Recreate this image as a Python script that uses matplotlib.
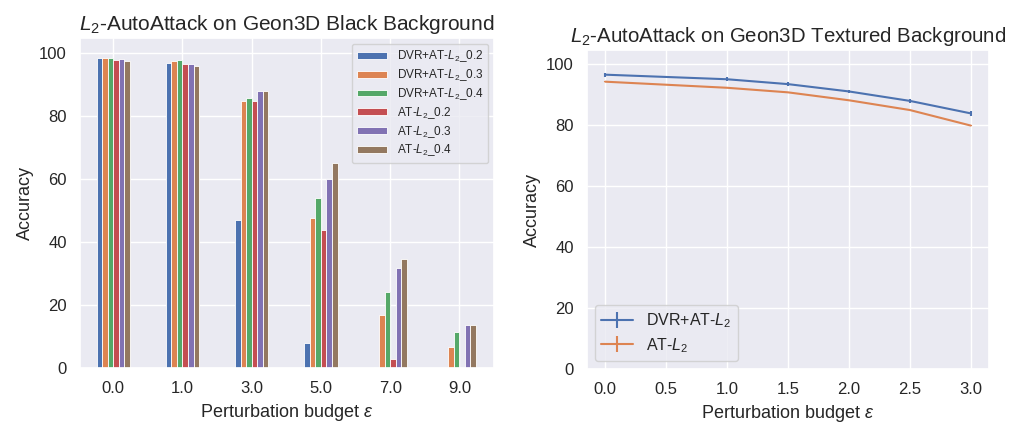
import numpy as np
import matplotlib
matplotlib.use('Agg')
import matplotlib.pyplot as plt
import seaborn as sns

sns.set_theme()
plt.rcParams['font.family'] = ['Liberation Sans', 'DejaVu Sans']
plt.rcParams['mathtext.fontset'] = 'custom'
plt.rcParams['mathtext.rm'] = 'Liberation Sans'
plt.rcParams['mathtext.it'] = 'Liberation Sans:italic'

# left panel: black background
budgets_black = ['0.0', '1.0', '3.0', '5.0', '7.0', '9.0']
series_names = [r'DVR+AT-$L_2$_0.2', r'DVR+AT-$L_2$_0.3', r'DVR+AT-$L_2$_0.4',
                r'AT-$L_2$_0.2', r'AT-$L_2$_0.3', r'AT-$L_2$_0.4']
dvr_02 = [98.2, 96.8, 46.9, 8.0, 0.3, 0.0]
dvr_03 = [98.2, 97.5, 84.6, 47.5, 16.8, 6.7]
dvr_04 = [98.2, 97.7, 85.7, 54.0, 24.2, 11.3]
at_02 = [97.8, 96.6, 84.8, 43.7, 2.7, 0.0]
at_03 = [97.9, 96.5, 87.8, 60.1, 31.6, 13.6]
at_04 = [97.5, 95.9, 87.8, 64.9, 34.5, 13.7]
black_series = [dvr_02, dvr_03, dvr_04, at_02, at_03, at_04]

# right panel: textured background
eps_tex = [0.0, 1.0, 1.5, 2.0, 2.5, 3.0]
dvr_tex = [96.6, 95.1, 93.5, 91.1, 88.0, 83.9]
dvr_tex_err = [0.7, 0.7, 0.7, 0.6, 0.6, 0.8]
at_tex = [94.3, 92.3, 90.8, 88.2, 85.0, 79.9]
at_tex_err = [0.1, 0.1, 0.1, 0.1, 0.1, 0.1]

fig = plt.figure(figsize=(10.19, 4.23), dpi=100)
ax1 = fig.add_axes([80/1019, 1-368/423, 414/1019, 330/423])
ax2 = fig.add_axes([587/1019, 1-369/423, 402/1019, 319/423])

colors = sns.color_palette()
x = np.arange(len(budgets_black))
w = 0.08
for i, vals in enumerate(black_series):
    ax1.bar(x + (i - 2.5) * w, vals, w, color=colors[i], label=series_names[i],
            edgecolor='white', linewidth=0.6)
ax1.set_xticks(x)
ax1.set_xticklabels(budgets_black)
ax1.set_xlim(-0.48, 5.5)
ax1.set_ylim(0, 104.7)
ax1.set_ylabel('Accuracy', fontsize=13)
ax1.set_xlabel(r'Perturbation budget $\epsilon$', fontsize=13)
ax1.set_title(r'$L_2$-AutoAttack on Geon3D Black Background', fontsize=15)
ax1.tick_params(labelsize=12)
ax1.legend(loc='upper right', fontsize=8.5, labelspacing=0.25,
           handlelength=2.6, handleheight=0.5)

ax2.errorbar(eps_tex, dvr_tex, yerr=dvr_tex_err, color=colors[0], label=r'DVR+AT-$L_2$')
ax2.errorbar(eps_tex, at_tex, yerr=at_tex_err, color=colors[1], label=r'AT-$L_2$')
ax2.set_ylim(0, 104.7)
ax2.set_xticks([0.0, 0.5, 1.0, 1.5, 2.0, 2.5, 3.0])
ax2.set_ylabel('Accuracy', fontsize=13)
ax2.set_xlabel(r'Perturbation budget $\epsilon$', fontsize=13)
ax2.set_title(r'$L_2$-AutoAttack on Geon3D Textured Background', fontsize=14.7)
ax2.tick_params(labelsize=12)
ax2.legend(loc='lower left', fontsize=11.5, labelspacing=0.35)

fig.savefig('out.png', dpi=100)
